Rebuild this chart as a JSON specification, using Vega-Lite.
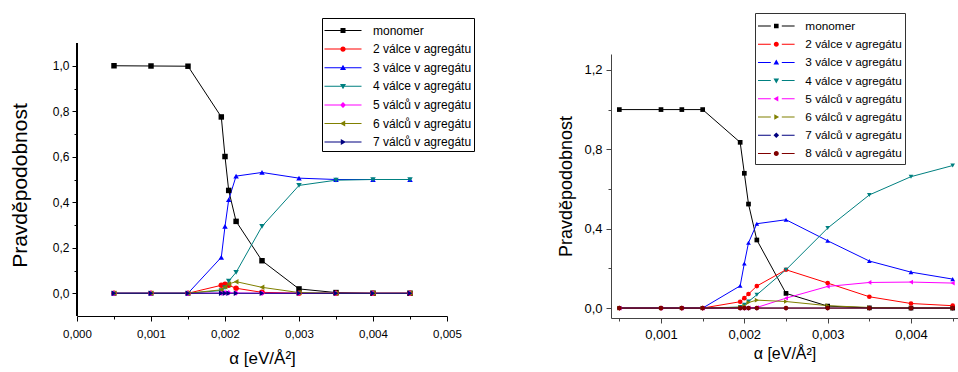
{
"$schema": "https://vega.github.io/schema/vega-lite/v6.json",
"padding": {"left": 9, "top": 12, "right": 0, "bottom": 0},
"background": "white",
"spacing": 82,
"datasets": {
"left": [
{"s":"monomer","a":0.0005,"p":1},{"s":"monomer","a":0.001,"p":0.999},{"s":"monomer","a":0.0015,"p":0.998},{"s":"monomer","a":0.00195,"p":0.775},{"s":"monomer","a":0.002,"p":0.601},{"s":"monomer","a":0.00205,"p":0.452},{"s":"monomer","a":0.00215,"p":0.316},{"s":"monomer","a":0.0025,"p":0.143},{"s":"monomer","a":0.003,"p":0.019},{"s":"monomer","a":0.0035,"p":0.003},{"s":"monomer","a":0.004,"p":0},{"s":"monomer","a":0.0045,"p":0},
{"s":"2 válce v agregátu","a":0.0005,"p":0},{"s":"2 válce v agregátu","a":0.001,"p":0},{"s":"2 válce v agregátu","a":0.0015,"p":0},{"s":"2 válce v agregátu","a":0.00195,"p":0.035},{"s":"2 válce v agregátu","a":0.002,"p":0.04},{"s":"2 válce v agregátu","a":0.00205,"p":0.035},{"s":"2 válce v agregátu","a":0.00215,"p":0.022},{"s":"2 válce v agregátu","a":0.0025,"p":0.004},{"s":"2 válce v agregátu","a":0.003,"p":0},{"s":"2 válce v agregátu","a":0.0035,"p":0},{"s":"2 válce v agregátu","a":0.004,"p":0},{"s":"2 válce v agregátu","a":0.0045,"p":0},
{"s":"3 válce v agregátu","a":0.0005,"p":0},{"s":"3 válce v agregátu","a":0.001,"p":0},{"s":"3 válce v agregátu","a":0.0015,"p":0},{"s":"3 válce v agregátu","a":0.00195,"p":0.158},{"s":"3 válce v agregátu","a":0.002,"p":0.294},{"s":"3 válce v agregátu","a":0.00205,"p":0.411},{"s":"3 válce v agregátu","a":0.00215,"p":0.515},{"s":"3 válce v agregátu","a":0.0025,"p":0.531},{"s":"3 válce v agregátu","a":0.003,"p":0.506},{"s":"3 válce v agregátu","a":0.0035,"p":0.5},{"s":"3 válce v agregátu","a":0.004,"p":0.5},{"s":"3 válce v agregátu","a":0.0045,"p":0.5},
{"s":"4 válce v agregátu","a":0.0005,"p":0},{"s":"4 válce v agregátu","a":0.001,"p":0},{"s":"4 válce v agregátu","a":0.0015,"p":0},{"s":"4 válce v agregátu","a":0.00195,"p":0.012},{"s":"4 válce v agregátu","a":0.002,"p":0.025},{"s":"4 válce v agregátu","a":0.00205,"p":0.053},{"s":"4 válce v agregátu","a":0.00215,"p":0.092},{"s":"4 válce v agregátu","a":0.0025,"p":0.294},{"s":"4 válce v agregátu","a":0.003,"p":0.474},{"s":"4 válce v agregátu","a":0.0035,"p":0.497},{"s":"4 válce v agregátu","a":0.004,"p":0.5},{"s":"4 válce v agregátu","a":0.0045,"p":0.5},
{"s":"5 válců v agregátu","a":0.0005,"p":0},{"s":"5 válců v agregátu","a":0.001,"p":0},{"s":"5 válců v agregátu","a":0.0015,"p":0},{"s":"5 válců v agregátu","a":0.00195,"p":0.001},{"s":"5 válců v agregátu","a":0.002,"p":0.002},{"s":"5 válců v agregátu","a":0.00205,"p":0.002},{"s":"5 válců v agregátu","a":0.00215,"p":0.001},{"s":"5 válců v agregátu","a":0.0025,"p":0},{"s":"5 válců v agregátu","a":0.003,"p":0},{"s":"5 válců v agregátu","a":0.0035,"p":0},{"s":"5 válců v agregátu","a":0.004,"p":0},{"s":"5 válců v agregátu","a":0.0045,"p":0},
{"s":"6 válců v agregátu","a":0.0005,"p":0},{"s":"6 válců v agregátu","a":0.001,"p":0},{"s":"6 válců v agregátu","a":0.0015,"p":0},{"s":"6 válců v agregátu","a":0.00195,"p":0.015},{"s":"6 válců v agregátu","a":0.002,"p":0.028},{"s":"6 válců v agregátu","a":0.00205,"p":0.041},{"s":"6 válců v agregátu","a":0.00215,"p":0.051},{"s":"6 válců v agregátu","a":0.0025,"p":0.026},{"s":"6 válců v agregátu","a":0.003,"p":0.003},{"s":"6 válců v agregátu","a":0.0035,"p":0},{"s":"6 válců v agregátu","a":0.004,"p":0},{"s":"6 válců v agregátu","a":0.0045,"p":0},
{"s":"7 válců v agregátu","a":0.0005,"p":0},{"s":"7 válců v agregátu","a":0.001,"p":0},{"s":"7 válců v agregátu","a":0.0015,"p":0},{"s":"7 válců v agregátu","a":0.00195,"p":0},{"s":"7 válců v agregátu","a":0.002,"p":0},{"s":"7 válců v agregátu","a":0.00205,"p":0},{"s":"7 válců v agregátu","a":0.00215,"p":0},{"s":"7 válců v agregátu","a":0.0025,"p":0},{"s":"7 válců v agregátu","a":0.003,"p":0},{"s":"7 válců v agregátu","a":0.0035,"p":0},{"s":"7 válců v agregátu","a":0.004,"p":0},{"s":"7 válců v agregátu","a":0.0045,"p":0}
],
"right": [
{"s":"monomer","a":0.0005,"p":1},{"s":"monomer","a":0.001,"p":1},{"s":"monomer","a":0.00125,"p":1},{"s":"monomer","a":0.0015,"p":1},{"s":"monomer","a":0.00195,"p":0.835},{"s":"monomer","a":0.002,"p":0.679},{"s":"monomer","a":0.00205,"p":0.524},{"s":"monomer","a":0.00215,"p":0.343},{"s":"monomer","a":0.0025,"p":0.074},{"s":"monomer","a":0.003,"p":0.01},{"s":"monomer","a":0.0035,"p":0.001},{"s":"monomer","a":0.004,"p":0},{"s":"monomer","a":0.0045,"p":0},
{"s":"2 válce v agregátu","a":0.0005,"p":0},{"s":"2 válce v agregátu","a":0.001,"p":0},{"s":"2 válce v agregátu","a":0.00125,"p":0},{"s":"2 válce v agregátu","a":0.0015,"p":0},{"s":"2 válce v agregátu","a":0.00195,"p":0.032},{"s":"2 válce v agregátu","a":0.002,"p":0.05},{"s":"2 válce v agregátu","a":0.00205,"p":0.071},{"s":"2 válce v agregátu","a":0.00215,"p":0.111},{"s":"2 válce v agregátu","a":0.0025,"p":0.193},{"s":"2 válce v agregátu","a":0.003,"p":0.126},{"s":"2 válce v agregátu","a":0.0035,"p":0.057},{"s":"2 válce v agregátu","a":0.004,"p":0.023},{"s":"2 válce v agregátu","a":0.0045,"p":0.012},
{"s":"3 válce v agregátu","a":0.0005,"p":0},{"s":"3 válce v agregátu","a":0.001,"p":0},{"s":"3 válce v agregátu","a":0.00125,"p":0},{"s":"3 válce v agregátu","a":0.0015,"p":0},{"s":"3 válce v agregátu","a":0.00195,"p":0.112},{"s":"3 válce v agregátu","a":0.002,"p":0.225},{"s":"3 válce v agregátu","a":0.00205,"p":0.329},{"s":"3 válce v agregátu","a":0.00215,"p":0.425},{"s":"3 válce v agregátu","a":0.0025,"p":0.445},{"s":"3 válce v agregátu","a":0.003,"p":0.339},{"s":"3 válce v agregátu","a":0.0035,"p":0.237},{"s":"3 válce v agregátu","a":0.004,"p":0.181},{"s":"3 válce v agregátu","a":0.0045,"p":0.146},
{"s":"4 válce v agregátu","a":0.0005,"p":0},{"s":"4 válce v agregátu","a":0.001,"p":0},{"s":"4 válce v agregátu","a":0.00125,"p":0},{"s":"4 válce v agregátu","a":0.0015,"p":0},{"s":"4 válce v agregátu","a":0.00195,"p":0.005},{"s":"4 válce v agregátu","a":0.002,"p":0.017},{"s":"4 válce v agregátu","a":0.00205,"p":0.033},{"s":"4 válce v agregátu","a":0.00215,"p":0.067},{"s":"4 válce v agregátu","a":0.0025,"p":0.193},{"s":"4 válce v agregátu","a":0.003,"p":0.403},{"s":"4 válce v agregátu","a":0.0035,"p":0.57},{"s":"4 válce v agregátu","a":0.004,"p":0.662},{"s":"4 válce v agregátu","a":0.0045,"p":0.718},
{"s":"5 válců v agregátu","a":0.0005,"p":0},{"s":"5 válců v agregátu","a":0.001,"p":0},{"s":"5 válců v agregátu","a":0.00125,"p":0},{"s":"5 válců v agregátu","a":0.0015,"p":0},{"s":"5 válců v agregátu","a":0.00195,"p":0},{"s":"5 válců v agregátu","a":0.002,"p":0},{"s":"5 válců v agregátu","a":0.00205,"p":0.001},{"s":"5 válců v agregátu","a":0.00215,"p":0.003},{"s":"5 válců v agregátu","a":0.0025,"p":0.05},{"s":"5 válců v agregátu","a":0.003,"p":0.109},{"s":"5 válců v agregátu","a":0.0035,"p":0.129},{"s":"5 válců v agregátu","a":0.004,"p":0.131},{"s":"5 válců v agregátu","a":0.0045,"p":0.126},
{"s":"6 válců v agregátu","a":0.0005,"p":0},{"s":"6 válců v agregátu","a":0.001,"p":0},{"s":"6 válců v agregátu","a":0.00125,"p":0},{"s":"6 válců v agregátu","a":0.0015,"p":0},{"s":"6 válců v agregátu","a":0.00195,"p":0.004},{"s":"6 válců v agregátu","a":0.002,"p":0.01},{"s":"6 válců v agregátu","a":0.00205,"p":0.028},{"s":"6 válců v agregátu","a":0.00215,"p":0.04},{"s":"6 válců v agregátu","a":0.0025,"p":0.033},{"s":"6 válců v agregátu","a":0.003,"p":0.012},{"s":"6 válců v agregátu","a":0.0035,"p":0.003},{"s":"6 válců v agregátu","a":0.004,"p":0.001},{"s":"6 válců v agregátu","a":0.0045,"p":0},
{"s":"7 válců v agregátu","a":0.0005,"p":0},{"s":"7 válců v agregátu","a":0.001,"p":0},{"s":"7 válců v agregátu","a":0.00125,"p":0},{"s":"7 válců v agregátu","a":0.0015,"p":0},{"s":"7 válců v agregátu","a":0.00195,"p":0},{"s":"7 válců v agregátu","a":0.002,"p":0},{"s":"7 válců v agregátu","a":0.00205,"p":0},{"s":"7 válců v agregátu","a":0.00215,"p":0},{"s":"7 válců v agregátu","a":0.0025,"p":0},{"s":"7 válců v agregátu","a":0.003,"p":0},{"s":"7 válců v agregátu","a":0.0035,"p":0},{"s":"7 válců v agregátu","a":0.004,"p":0},{"s":"7 válců v agregátu","a":0.0045,"p":0},
{"s":"8 válců v agregátu","a":0.0005,"p":0},{"s":"8 válců v agregátu","a":0.001,"p":0},{"s":"8 válců v agregátu","a":0.00125,"p":0},{"s":"8 válců v agregátu","a":0.0015,"p":0},{"s":"8 válců v agregátu","a":0.00195,"p":0},{"s":"8 válců v agregátu","a":0.002,"p":0},{"s":"8 válců v agregátu","a":0.00205,"p":0},{"s":"8 válců v agregátu","a":0.00215,"p":0},{"s":"8 válců v agregátu","a":0.0025,"p":0},{"s":"8 válců v agregátu","a":0.003,"p":0},{"s":"8 válců v agregátu","a":0.0035,"p":0},{"s":"8 válců v agregátu","a":0.004,"p":0},{"s":"8 válců v agregátu","a":0.0045,"p":0}
]
},
"hconcat": [
{
"width": 370, "height": 262,
"data": {"name": "left"},
"encoding": {
"x": {"field": "a", "type": "quantitative",
 "scale": {"domain": [0, 0.005], "nice": false, "zero": false},
 "axis": {"title": "α [eV/Å²]", "values": [0,0.0005,0.001,0.0015,0.002,0.0025,0.003,0.0035,0.004,0.0045,0.005],
  "labelExpr": "round(datum.value*2000)%2==0 ? replace(format(datum.value,'.3f'),'.',',') : ''",
  "tickSize": {"condition": {"test": "round(datum.value*2000)%2==0", "value": 5}, "value": 3},
  "labelFontSize": 11.5, "labelPadding": 7, "titleFontSize": 17, "titlePadding": 11}},
"y": {"field": "p", "type": "quantitative",
 "scale": {"domain": [-0.1, 1.0517], "nice": false, "zero": false},
 "axis": {"title": "Pravděpodobnost", "domain": false, "values": [0,0.1,0.2,0.3,0.4,0.5,0.6,0.7,0.8,0.9,1.0],
  "labelExpr": "round(datum.value*10)%2==0 ? replace(format(datum.value,'.1f'),'.',',') : ''",
  "tickSize": {"condition": {"test": "round(datum.value*10)%2==0", "value": 5}, "value": 3},
  "labelFontSize": 12, "labelPadding": 3, "titleFontSize": 21, "titlePadding": 22}}
},
"layer": [
{"mark": {"type": "rule", "color": "#000", "strokeWidth": 1, "clip": false},
 "encoding": {"x": {"datum": 0, "type": "quantitative"}, "y": {"datum": -0.1, "type": "quantitative"}, "y2": {"datum": 1.1}}},
{"mark": {"type": "line", "strokeWidth": 1},
 "encoding": {"stroke": {"field": "s", "type": "nominal",
  "scale": {"domain": ["7 válců v agregátu","6 válců v agregátu","5 válců v agregátu","4 válce v agregátu","3 válce v agregátu","2 válce v agregátu","monomer"],
   "range": ["#000080","#808000","#ff00ff","#008080","#0000ff","#ff0000","#000000"]}, "legend": null}}},
{"mark": {"type": "point", "filled": true, "opacity": 1, "size": 30},
 "encoding": {
  "color": {"field": "s", "type": "nominal",
   "scale": {"domain": ["monomer","2 válce v agregátu","3 válce v agregátu","4 válce v agregátu","5 válců v agregátu","6 válců v agregátu","7 válců v agregátu"],
    "range": ["#000000","#ff0000","#0000ff","#008080","#ff00ff","#808000","#000080"]},
   "legend": {"orient": "none", "legendX": 245, "legendY": -36, "title": null, "direction": "vertical",
    "strokeColor": "#000", "fillColor": "#fff", "padding": 2.5, "rowPadding": 2.6,
    "symbolSize": 400, "symbolOffset": 8.5, "labelOffset": 20, "symbolStrokeWidth": 0, "symbolOpacity": 1,
    "labelFontSize": 12, "labelFont": "Liberation Sans", "labelColor": "#000", "labelLimit": 0,
    "encode": {"symbols": {"update": {"shape": {"signal": "['M-1.85,-0.05H1.85V0.05H-1.85Z M-0.25,-0.25H0.25V0.25H-0.25Z','M-1.85,-0.05H1.85V0.05H-1.85Z M-0.27,0A0.27 0.27 0 1 1 0.27,0A0.27 0.27 0 1 1 -0.27,0Z','M-1.85,-0.05H1.85V0.05H-1.85Z M0,-0.3L0.3,0.22L-0.3,0.22Z','M-1.85,-0.05H1.85V0.05H-1.85Z M0,0.3L-0.3,-0.22L0.3,-0.22Z','M-1.85,-0.05H1.85V0.05H-1.85Z M0,-0.3L0.3,0L0,0.3L-0.3,0Z','M-1.85,-0.05H1.85V0.05H-1.85Z M-0.3,0L0.22,-0.3L0.22,0.3Z','M-1.85,-0.05H1.85V0.05H-1.85Z M0.3,0L-0.22,0.3L-0.22,-0.3Z'][datum.index]"}}}}}},
  "shape": {"field": "s", "type": "nominal",
   "scale": {"domain": ["7 válců v agregátu","6 válců v agregátu","5 válců v agregátu","4 válce v agregátu","3 válce v agregátu","2 válce v agregátu","monomer"],
    "range": ["triangle-right","triangle-left","diamond","triangle-down","triangle-up","circle","square"]}, "legend": null}
 }}
]
},
{
"width": 347, "height": 264,
"data": {"name": "right"},
"encoding": {
"x": {"field": "a", "type": "quantitative",
 "scale": {"domain": [0.0004, 0.004564], "nice": false, "zero": false},
 "axis": {"title": "α [eV/Å²]", "values": [0.0005,0.001,0.0015,0.002,0.0025,0.003,0.0035,0.004,0.0045],
  "labelExpr": "round(datum.value*2000)%2==0 ? replace(format(datum.value,'.3f'),'.',',') : ''",
  "tickSize": {"condition": {"test": "round(datum.value*2000)%2==0", "value": 5}, "value": 3},
  "domainColor": "#444", "tickColor": "#444",
  "labelFontSize": 13, "labelPadding": 5, "titleFontSize": 16, "titlePadding": 4}},
"y": {"field": "p", "type": "quantitative",
 "scale": {"domain": [-0.05, 1.28], "nice": false, "zero": false},
 "axis": {"title": "Pravděpodobnost", "values": [0,0.2,0.4,0.6,0.8,1.0,1.2],
  "labelExpr": "round(datum.value*10)%4==0 ? replace(format(datum.value,'.1f'),'.',',') : ''",
  "tickSize": {"condition": {"test": "round(datum.value*10)%4==0", "value": 5}, "value": 3},
  "domainColor": "#444", "tickColor": "#444",
  "labelFontSize": 13, "labelPadding": 4, "titleFontSize": 18, "titlePadding": 8}}
},
"layer": [
{"mark": {"type": "line", "strokeWidth": 1},
 "encoding": {"stroke": {"field": "s", "type": "nominal",
  "scale": {"domain": ["8 válců v agregátu","7 válců v agregátu","6 válců v agregátu","5 válců v agregátu","4 válce v agregátu","3 válce v agregátu","2 válce v agregátu","monomer"],
   "range": ["#800000","#000080","#808000","#ff00ff","#008080","#0000ff","#ff0000","#000000"]}, "legend": null}}},
{"mark": {"type": "point", "filled": true, "opacity": 1, "size": 22},
 "encoding": {
  "color": {"field": "s", "type": "nominal",
   "scale": {"domain": ["monomer","2 válce v agregátu","3 válce v agregátu","4 válce v agregátu","5 válců v agregátu","6 válců v agregátu","7 válců v agregátu","8 válců v agregátu"],
    "range": ["#000000","#ff0000","#0000ff","#008080","#ff00ff","#808000","#000080","#800000"]},
   "legend": {"orient": "none", "legendX": 144, "legendY": -41, "title": null, "direction": "vertical",
    "strokeColor": "#333", "fillColor": "#fff", "padding": 3, "rowPadding": 1.2,
    "symbolSize": 400, "symbolOffset": 8.3, "labelOffset": 19, "symbolStrokeWidth": 0, "symbolOpacity": 1,
    "labelFontSize": 11.8, "labelFont": "Liberation Sans", "labelColor": "#000", "labelLimit": 0,
    "encode": {"symbols": {"update": {"shape": {"signal": "['M-1.83,-0.05H-0.55V0.05H-1.83Z M0.55,-0.05H1.83V0.05H0.55Z M-0.23,-0.23H0.23V0.23H-0.23Z','M-1.83,-0.05H-0.55V0.05H-1.83Z M0.55,-0.05H1.83V0.05H0.55Z M-0.25,0A0.25 0.25 0 1 1 0.25,0A0.25 0.25 0 1 1 -0.25,0Z','M-1.83,-0.05H-0.55V0.05H-1.83Z M0.55,-0.05H1.83V0.05H0.55Z M0,-0.28L0.28,0.2L-0.28,0.2Z','M-1.83,-0.05H-0.55V0.05H-1.83Z M0.55,-0.05H1.83V0.05H0.55Z M0,0.28L-0.28,-0.2L0.28,-0.2Z','M-1.83,-0.05H-0.55V0.05H-1.83Z M0.55,-0.05H1.83V0.05H0.55Z M-0.28,0L0.2,-0.28L0.2,0.28Z','M-1.83,-0.05H-0.55V0.05H-1.83Z M0.55,-0.05H1.83V0.05H0.55Z M0.28,0L-0.2,0.28L-0.2,-0.28Z','M-1.83,-0.05H-0.55V0.05H-1.83Z M0.55,-0.05H1.83V0.05H0.55Z M0,-0.28L0.28,0L0,0.28L-0.28,0Z','M-1.83,-0.05H-0.55V0.05H-1.83Z M0.55,-0.05H1.83V0.05H0.55Z M-0.25,0A0.25 0.25 0 1 1 0.25,0A0.25 0.25 0 1 1 -0.25,0Z'][datum.index]"}}}}}},
  "shape": {"field": "s", "type": "nominal",
   "scale": {"domain": ["8 válců v agregátu","7 válců v agregátu","6 válců v agregátu","5 válců v agregátu","4 válce v agregátu","3 válce v agregátu","2 válce v agregátu","monomer"],
    "range": ["circle","diamond","triangle-right","triangle-left","triangle-down","triangle-up","circle","square"]}, "legend": null}
 }}
]
}
],
"resolve": {"scale": {"color": "independent", "stroke": "independent", "shape": "independent", "x": "independent", "y": "independent"}, "legend": {"color": "independent", "stroke": "independent", "shape": "independent"}},
"config": {
"view": {"stroke": null},
"font": "Liberation Sans",
"axis": {"grid": false, "labelFont": "Liberation Sans", "titleFont": "Liberation Sans", "titleFontWeight": "normal", "labelColor": "#000", "titleColor": "#000", "domainColor": "#000", "tickColor": "#000", "labelOverlap": false, "labelFlush": false}
}
}
